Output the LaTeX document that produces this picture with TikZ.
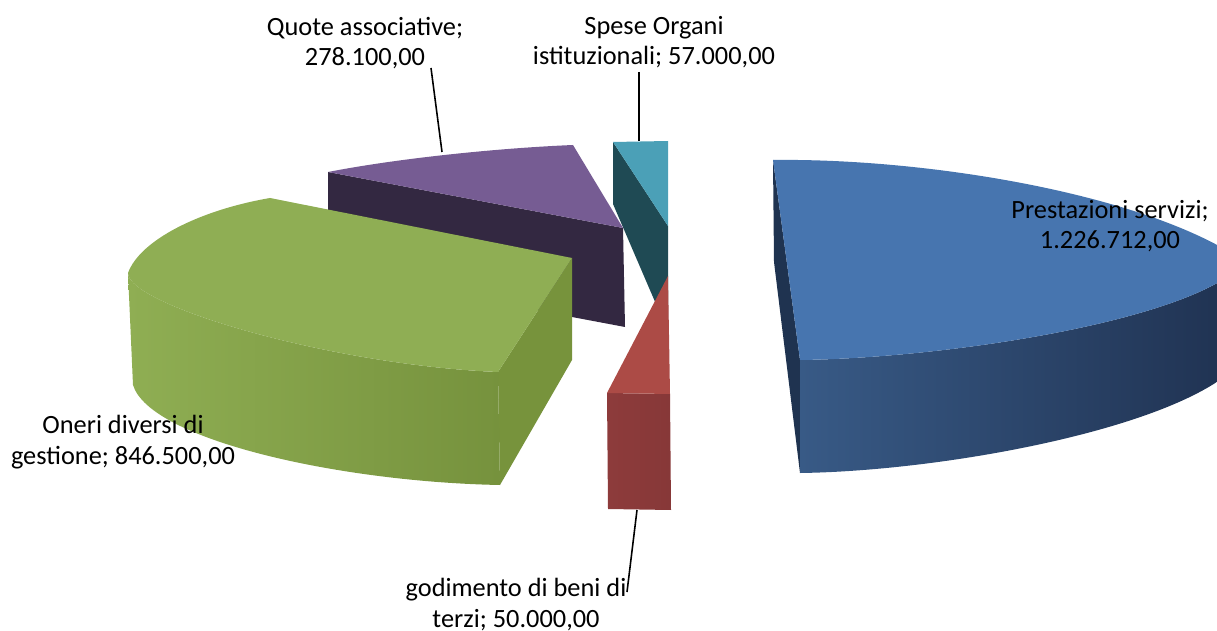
\documentclass[tikz,border=0pt]{standalone}
\usepackage{fontspec}
\setmainfont{Carlito}
\usetikzlibrary{positioning}
\definecolor{bluetop}{HTML}{4775AF}
\definecolor{bluestrip}{HTML}{1F3350}
\definecolor{bluesideL}{HTML}{385A86}
\definecolor{bluesideR}{HTML}{1F3150}
\definecolor{greentop}{HTML}{8FAE54}
\definecolor{greensideL}{HTML}{8FAE53}
\definecolor{greensideR}{HTML}{76923D}
\definecolor{greencut}{HTML}{77933C}
\definecolor{purpletop}{HTML}{765C93}
\definecolor{purpleside}{HTML}{332841}
\definecolor{tealtop}{HTML}{4BA0B7}
\definecolor{tealside}{HTML}{1F4A54}
\definecolor{redtop}{HTML}{AC4B46}
\definecolor{redfrontL}{HTML}{8D3B3B}
\definecolor{redfrontR}{HTML}{873838}

\begin{document}
\begin{tikzpicture}[x=0.02cm, y=-0.02cm,
      every node/.style={font=\fontsize{15}{17.6}\selectfont, align=center},
      lbl/.style={anchor=base, inner sep=0pt},
      leader/.style={draw=black, line width=0.9pt}]
    \useasboundingbox (0,0) rectangle (1217,631);
    \begin{scope}
    \clip (0,0) rectangle (1217,631);
    % Spese Organi istituzionali
    \fill[tealside] (613,142) -- (668,226) -- (668,332) -- (613,204) -- cycle;
    \fill[tealtop] (613,142) -- (668,141) -- (668,226) -- cycle;
    % Quote associative
    \fill[purpleside] (328,172) -- (623,228) -- (625,327) -- (328,271) -- cycle;
    \fill[purpletop] (328,172) -- (623,228) -- (573,145) .. controls (500,148) and (400,158) .. (328,172) -- cycle;
    % Oneri diversi di gestione
    \fill[greencut] (498,372) -- (572,258) -- (572,360) -- (500,485) -- cycle;
    \shade[left color=greensideL, right color=greensideR] (128,273) .. controls (128,305) and (330,365) .. (498,372)
      -- (500,485) .. controls (340,482) and (150,440) .. (133,385) -- cycle;
    \fill[greentop] (572,258) -- (270,198) .. controls (200,210) and (140,240) .. (128,273)
      .. controls (128,305) and (330,365) .. (498,372) -- cycle;
    % godimento di beni di terzi
    \shade[left color=redfrontL, right color=redfrontR] (607,393) -- (670,394) -- (671,510) -- (608,509) -- cycle;
    \fill[redtop] (668,276) -- (607,393) -- (670,394) -- cycle;
    % Prestazioni servizi
    \fill[bluestrip] (773,160) -- (800,360) -- (800,473) -- (774,262) -- cycle;
    \shade[left color=bluesideL, right color=bluesideR] (800,360) .. controls (950,358) and (1195,320) .. (1245,262)
      -- (1245,357) .. controls (1195,425) and (950,471) .. (800,473) -- cycle;
    \fill[bluetop] (773,160) .. controls (930,158) and (1150,195) .. (1245,262)
      .. controls (1195,320) and (950,358) .. (800,360) -- cycle;
    \end{scope}

    % labels
    \node[lbl] (lblprest) at (1110,249) {Prestazioni servizi;\\1.226.712,00};
    \node[lbl] (lbloneri) at (123,464) {Oneri diversi di\\gestione; 846.500,00};
    \node[lbl] (lblquote) at (365,66) {Quote associative;\\278.100,00};
    \node[lbl] (lblspese) at (654,65) {Spese Organi\\istituzionali; 57.000,00};
    \node[lbl] (lblgodim) at (516,627) {godimento di beni di\\terzi; 50.000,00};

    % leader lines
    \coordinate (quotefrom) at (431,68);
    \coordinate (quoteto) at (442,152);
    \coordinate (spesefrom) at (639,72);
    \coordinate (speseto) at (639,141);
    \coordinate (godimfrom) at (627,592);
    \coordinate (godimto) at (637,510);
    \draw[leader] (quotefrom) -- (quoteto);
    \draw[leader] (spesefrom) -- (speseto);
    \draw[leader] (godimfrom) -- (godimto);
  \end{tikzpicture}
\end{document}
